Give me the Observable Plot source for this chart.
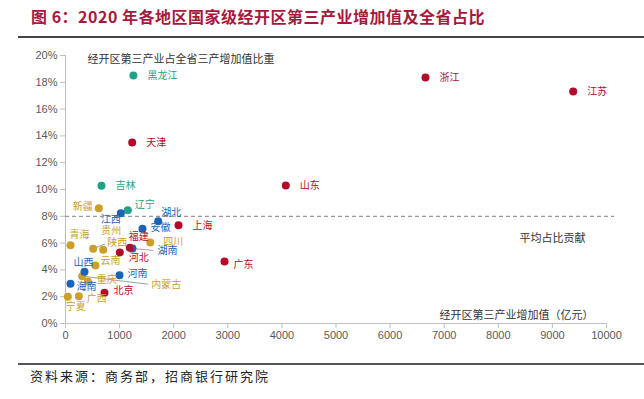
<!DOCTYPE html>
<html><head><meta charset="utf-8">
<script src="https://cdn.jsdelivr.net/npm/d3@7"></script>
<script src="https://cdn.jsdelivr.net/npm/@observablehq/plot@0.6"></script>
<style>
body{margin:0;background:#fff;width:644px;height:399px;position:relative;overflow:hidden;font-family:"Noto Sans CJK SC",sans-serif}
#title{position:absolute;left:31px;top:4px;font-size:16px;font-weight:bold;color:#A6193C;white-space:nowrap;letter-spacing:0.5px}
#topline{position:absolute;left:18px;right:0;top:36px;height:2px;background:#444}
#chart{position:absolute;left:0;top:40px}
#botline{position:absolute;left:18px;right:0;top:363px;height:2px;background:#555}
#caption{position:absolute;left:30px;top:366px;font-size:13px;letter-spacing:2px;color:#222;white-space:nowrap}
</style></head><body>
<div id="title">图 6：2020 年各地区国家级经开区第三产业增加值及全省占比</div>
<div id="topline"></div>
<div id="chart"></div>
<div id="botline"></div>
<div id="caption">资料来源：商务部，招商银行研究院</div>
<script>
// ---- data ----
const provinces = ["黑龙江","天津","浙江","江苏","山东","吉林","新疆","辽宁","江西","湖北","上海","安徽","青海","贵州","陕西","福建","河北","四川","湖南","广东","云南","山西","河南","重庆","内蒙古","海南","北京","广西","宁夏"];
const valueAdded = [1255,1233,6654,9384,4072,665,616,1152,1022,1713,2089,1423,92,697,512,1189,1004,1566,1238,2939,555,351,998,412,309,92,721,246,43]; // 亿元
const shareOfProvince = [0.185,0.135,0.1836,0.1731,0.103,0.1028,0.086,0.0846,0.0823,0.0763,0.0734,0.0707,0.0584,0.055,0.0557,0.0565,0.053,0.0604,0.056,0.0463,0.0433,0.0386,0.036,0.0313,0.0353,0.0296,0.023,0.0203,0.0199];
const regionOf = ["东北","东部","东部","东部","东部","东北","西部","东北","中部","中部","东部","中部","西部","西部","西部","东部","东部","西部","中部","东部","西部","中部","中部","西部","西部","中部","东部","西部","西部"];
const avgShare = 0.08;
const xTicks = [0,1000,2000,3000,4000,5000,6000,7000,8000,9000,10000];
const yTicks = [0,0.02,0.04,0.06,0.08,0.10,0.12,0.14,0.16,0.18,0.20];
const yAxisTitle = "经开区第三产业占全省三产增加值比重";
const xAxisTitle = "经开区第三产业增加值（亿元）";
const avgLabel = "平均占比贡献";

// ---- styles ----
const regionColor = {"东部":"#B00D2B","中部":"#1B63B8","东北":"#1FA386","西部":"#CC9F2A"};
const drawOrder = {"西部":0,"东北":1,"中部":2,"东部":3};
// label placement: [anchor, dx, dy] in pixels, and optional leader-line end offset
const labelPlace = {
  "黑龙江":["start",14,0],"天津":["start",14,0],"浙江":["start",14,0],"江苏":["start",14,0],
  "山东":["start",14,0],"吉林":["start",14,0],"新疆":["end",-6,-1],"辽宁":["start",7,-5],
  "江西":["middle",-10,7],"湖北":["middle",13,-8],"上海":["start",14,1],"安徽":["start",8,-1],
  "青海":["middle",9,-10],"贵州":["middle",8,-19],"陕西":["start",14,-6,[12,-5]],"福建":["middle",9,-11],
  "河北":["middle",19,5],"四川":["start",13,-1],"湖南":["start",25,2,[21,2]],"广东":["start",9,3],
  "云南":["start",5,-5],"山西":["middle",-1,-9],"河南":["start",8,-1],"重庆":["start",9,-2],
  "内蒙古":["start",69,9,[66,8]],"海南":["start",6,3],"北京":["start",9,-2],"广西":["start",8,2],
  "宁夏":["middle",8,10]
};

const data = provinces.map((p,i)=>({name:p,x:valueAdded[i],y:shareOfProvince[i],region:regionOf[i]}))
  .sort((a,b)=>drawOrder[a.region]-drawOrder[b.region]);

const W = 644, H = 322, mL = 65, mR = 38, mT = 15, mB = 39;
const pxX = 10000/(W-mL-mR), pxY = 0.2/(H-mT-mB);
const leaders = data.filter(d=>labelPlace[d.name][3]).map(d=>{
  const o = labelPlace[d.name][3];
  return {x1:d.x, y1:d.y, x2:d.x+o[0]*pxX, y2:d.y-o[1]*pxY};
});

const cjk = "Noto Sans CJK SC";
const labelMarks = data.map(d=>{
  const [a,dx,dy] = labelPlace[d.name];
  return Plot.text([d],{x:"x",y:"y",text:"name",textAnchor:a,dx,dy,fill:regionColor[d.region],
    fontFamily:cjk,fontSize:10,letterSpacing:1});
});

const chart = Plot.plot({
  width: W, height: H, marginLeft: mL, marginRight: mR, marginTop: mT, marginBottom: mB,
  style:{fontFamily:"Liberation Sans, Arial, sans-serif",fontSize:"11px",background:"white",overflow:"visible"},
  x:{domain:[0,10000]},
  y:{domain:[0,0.2]},
  marks:[
    Plot.ruleX([0],{y1:0,y2:0.2,stroke:"#BFBFBF"}),
    Plot.ruleY([0],{x1:0,x2:10000,stroke:"#BFBFBF"}),
    Plot.axisX({ticks:xTicks,tickSize:5,tickPadding:3,stroke:"#BFBFBF",fill:"#595959",label:null,tickFormat:d=>String(d)}),
    Plot.axisY({ticks:yTicks,tickSize:5,tickPadding:3,stroke:"#BFBFBF",fill:"#595959",label:null,tickFormat:d3.format(".0%")}),
    Plot.ruleY([avgShare],{x1:0,x2:10150,stroke:"#808080",strokeDasharray:"4,3"}),
    Plot.link(leaders,{x1:"x1",y1:"y1",x2:"x2",y2:"y2",stroke:"#A0A0A0",strokeWidth:1}),
    Plot.dot(data,{x:"x",y:"y",r:4,fill:d=>regionColor[d.region],stroke:"none"}),
    ...labelMarks,
    Plot.text([yAxisTitle],{frameAnchor:"top-left",textAnchor:"start",dx:22,dy:0,fill:"#333",fontFamily:cjk,fontSize:11,letterSpacing:2}),
    Plot.text([avgLabel],{frameAnchor:"top-right",textAnchor:"end",dx:-21,dy:179,fill:"#333",fontFamily:cjk,fontSize:11,letterSpacing:2}),
    Plot.text([xAxisTitle],{frameAnchor:"bottom-right",textAnchor:"end",dx:-13,dy:-5,fill:"#333",fontFamily:cjk,fontSize:11,letterSpacing:1.5})
  ]
});
document.getElementById("chart").appendChild(chart);
</script>
</body></html>
